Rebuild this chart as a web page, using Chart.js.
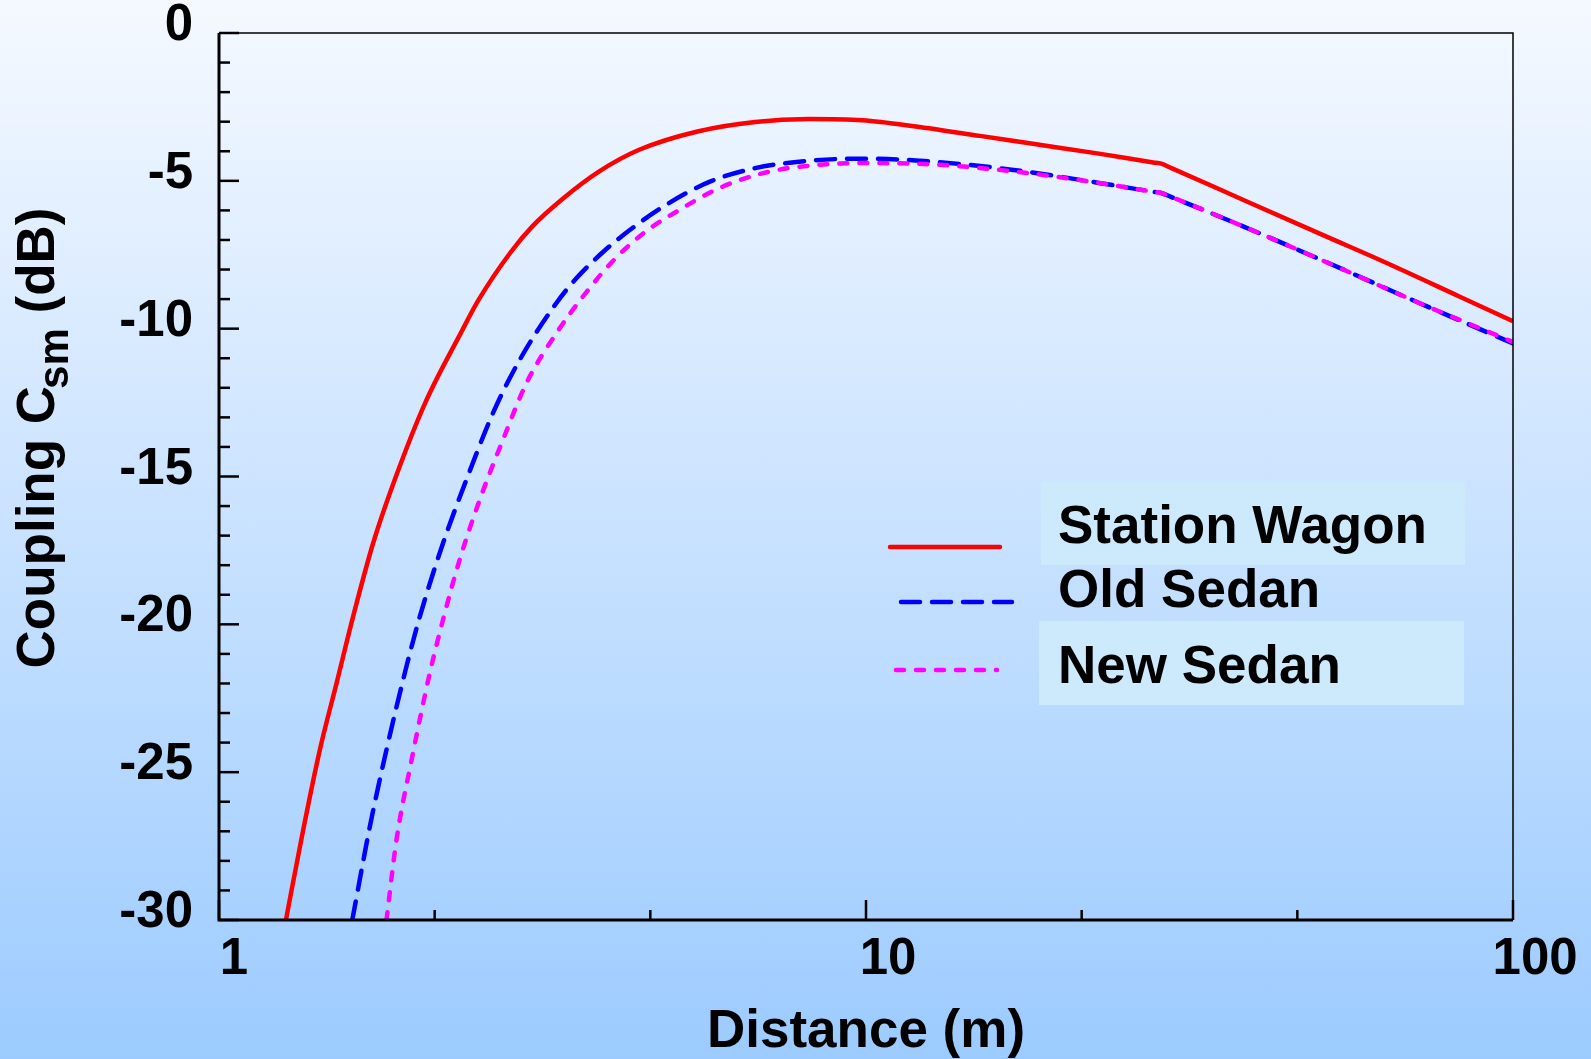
<!DOCTYPE html>
<html>
<head>
<meta charset="utf-8">
<script src="https://cdn.jsdelivr.net/npm/chart.js@4.4.1/dist/chart.umd.min.js"></script>
<style>
  html, body { margin: 0; padding: 0; }
  body {
    width: 1591px; height: 1059px; overflow: hidden;
    background: linear-gradient(to bottom, #f5f9ff 0%, #9ccbff 100%);
  }
  canvas { display: block; }
</style>
</head>
<body>
<canvas id="couplingChart" width="1591" height="1059"></canvas>
<script>
// values (distance in m, coupling in dB)
const swDist = [1.269, 1.348, 1.432, 1.52, 1.612, 1.731, 1.877, 2.084, 2.364, 2.52, 2.818, 3.05, 3.41, 3.87, 4.46, 5.49, 6.74, 8.16, 9.87, 11.94, 15, 18, 22.9, 27.8, 28.6, 29.6, 38.7, 51.4, 62.9, 82.6, 100];
const swDb   = [-30, -27, -24.24, -21.98, -19.73, -17.25, -15, -12.5, -10.15, -9.02, -7.44, -6.54, -5.58, -4.68, -3.95, -3.33, -3.01, -2.91, -2.95, -3.16, -3.48, -3.74, -4.08, -4.38, -4.42, -4.56, -5.69, -6.88, -7.72, -8.91, -9.75];

const oldDist = [1.607, 1.711, 1.815, 1.949, 2.044, 2.22, 2.413, 2.652, 2.917, 3.323, 3.57, 3.93, 4.39, 4.91, 5.75, 6.74, 8.16, 9.87, 11.94, 16.9, 22.9, 27.8, 28.6, 29.6, 37.7, 52.6, 71.6, 100];
const oldDb   = [-30, -26.83, -24.24, -21.42, -19.73, -17.25, -15.1, -12.85, -11.05, -9.13, -8.29, -7.39, -6.54, -5.81, -5.02, -4.57, -4.32, -4.25, -4.31, -4.63, -5.07, -5.37, -5.41, -5.54, -6.48, -7.84, -9.13, -10.5];

const newDist = [1.815, 1.881, 1.985, 2.118, 2.234, 2.356, 2.53, 2.748, 2.987, 3.323, 3.69, 4.06, 4.53, 5.15, 5.94, 6.96, 8.16, 9.87, 11.94, 16.9, 22.9, 27.8, 28.6, 29.6, 37.7, 52.6, 71.6, 100];
const newDb   = [-30, -27.28, -24.58, -21.64, -19.61, -17.8, -15.78, -13.75, -11.84, -10.15, -8.79, -7.72, -6.77, -5.98, -5.24, -4.73, -4.49, -4.40, -4.42, -4.68, -5.07, -5.37, -5.41, -5.54, -6.48, -7.84, -9.13, -10.45];

const seriesNames = ['Station Wagon', 'Old Sedan', 'New Sedan'];
const xTickValues = [1, 10, 100];
const yTickValues = [0, -5, -10, -15, -20, -25, -30];

const FONT = '"Liberation Sans", Arial, sans-serif';

function toPoints(xs, ys) {
    return xs.map((x, i) => ({ x: x, y: ys[i] }));
}

// frame, inside ticks, axis titles and the legend
const decorPlugin = {
    id: 'decor',
    afterDraw(chart) {
        const ctx = chart.ctx;
        const a = chart.chartArea;
        const xs = chart.scales.x;
        const ys = chart.scales.y;
        ctx.save();
        ctx.strokeStyle = '#000';
        ctx.lineCap = 'butt';

        // thin top and right lines
        ctx.lineWidth = 1.5;
        ctx.beginPath();
        ctx.moveTo(a.left, a.top); ctx.lineTo(a.right, a.top); ctx.lineTo(a.right, a.bottom);
        ctx.stroke();
        // heavier left and bottom axes
        ctx.lineWidth = 3;
        ctx.beginPath();
        ctx.moveTo(a.left, a.top); ctx.lineTo(a.left, a.bottom); ctx.lineTo(a.right, a.bottom);
        ctx.stroke();

        // y ticks every 1 dB, pointing right
        ctx.lineWidth = 2.5;
        for (let v = -30; v <= 0; v++) {
            const py = ys.getPixelForValue(v);
            const len = (v % 5 === 0) ? 20 : 11;
            ctx.beginPath();
            ctx.moveTo(a.left, py); ctx.lineTo(a.left + len, py);
            ctx.stroke();
        }
        // x ticks every third of a decade, pointing up
        for (let k = 0; k <= 6; k++) {
            const px = xs.getPixelForValue(Math.pow(10, k / 3));
            const len = (k % 3 === 0) ? 20 : 10;
            ctx.beginPath();
            ctx.moveTo(px, a.bottom); ctx.lineTo(px, a.bottom - len);
            ctx.stroke();
        }

        ctx.fillStyle = '#000';
        ctx.textBaseline = 'alphabetic';

        // x title
        ctx.font = 'bold 53px ' + FONT;
        ctx.textAlign = 'center';
        ctx.fillText('Distance (m)', (a.left + a.right) / 2, 1047);

        // y title with subscript
        ctx.save();
        ctx.translate(54, 438);
        ctx.rotate(-Math.PI / 2);
        ctx.textAlign = 'left';
        const mainFont = 'bold 53px ' + FONT;
        const subFont = 'bold 42px ' + FONT;
        ctx.font = mainFont;
        const t1 = 'Coupling C', t3 = ' (dB)';
        const w1 = ctx.measureText(t1).width;
        const w3 = ctx.measureText(t3).width;
        ctx.font = subFont;
        const w2 = ctx.measureText('sm').width;
        let tx = -(w1 + w2 - 3 + w3) / 2;
        ctx.font = mainFont;
        ctx.fillText(t1, tx, 0);
        tx += w1 - 3;
        ctx.font = subFont;
        ctx.fillText('sm', tx, 14);
        tx += w2;
        ctx.font = mainFont;
        ctx.fillText(t3, tx, 0);
        ctx.restore();

        // legend
        ctx.fillStyle = '#cdeafd';
        ctx.fillRect(1041, 482, 424, 83);
        ctx.fillRect(1039, 621, 425, 84);

        const ds = chart.data.datasets;
        const legendLines = [
            { i: 0, x1: 890, x2: 1000, y: 547 },
            { i: 1, x1: 901, x2: 1012, y: 602 },
            { i: 2, x1: 896, x2: 997, y: 670 }
        ];
        ctx.lineCap = 'round';
        ctx.lineWidth = 4.5;
        legendLines.forEach(l => {
            const d = ds[l.i];
            ctx.strokeStyle = d.borderColor;
            ctx.setLineDash(d.borderDash || []);
            ctx.beginPath();
            ctx.moveTo(l.x1, l.y); ctx.lineTo(l.x2, l.y);
            ctx.stroke();
        });
        ctx.setLineDash([]);

        ctx.fillStyle = '#000';
        ctx.font = 'bold 53px ' + FONT;
        ctx.textAlign = 'left';
        ctx.fillText(seriesNames[0], 1058, 543);
        ctx.fillText(seriesNames[1], 1058, 607);
        ctx.fillText(seriesNames[2], 1058, 683);
        ctx.restore();
    }
};

const ctx = document.getElementById('couplingChart').getContext('2d');
const couplingChart = new Chart(ctx, {
    type: 'line',
    data: {
        datasets: [
            {
                label: seriesNames[0],
                data: toPoints(swDist, swDb),
                borderColor: '#ff0000',
                borderWidth: 4.5,
                order: 0
            },
            {
                label: seriesNames[1],
                data: toPoints(oldDist, oldDb),
                borderColor: '#0000ff',
                borderWidth: 4.5,
                borderDash: [19, 12],
                borderCapStyle: 'round',
                order: 2
            },
            {
                label: seriesNames[2],
                data: toPoints(newDist, newDb),
                borderColor: '#ff00ff',
                borderWidth: 4.5,
                borderDash: [8, 12],
                borderCapStyle: 'round',
                order: 1
            }
        ]
    },
    options: {
        responsive: false,
        maintainAspectRatio: false,
        animation: false,
        events: [],
        layout: { padding: { top: 33, right: 78, bottom: 0, left: 0 } },
        elements: {
            point: { radius: 0 },
            line: { cubicInterpolationMode: 'monotone', borderJoinStyle: 'round' }
        },
        plugins: {
            legend: { display: false },
            tooltip: { enabled: false }
        },
        scales: {
            x: {
                type: 'logarithmic',
                min: 1,
                max: 100,
                grid: { display: false, drawTicks: false },
                border: { display: false },
                afterBuildTicks: (axis) => {
                    axis.ticks = xTickValues.map(v => ({ value: v }));
                },
                afterFit: (scale) => {
                    scale.height = 139;
                    scale.paddingLeft = 0;
                    scale.paddingRight = 0;
                },
                ticks: {
                    autoSkip: false,
                    maxRotation: 0,
                    padding: 9,
                    labelOffset: 15,
                    color: '#000',
                    font: { family: FONT, size: 51, weight: 'bold' },
                    // the 10 and 100 labels sit a little further right in the original
                    callback: (v) => (v > 1 ? ' ' : '') + String(v)
                }
            },
            y: {
                type: 'linear',
                min: -30,
                max: 0,
                grid: { display: false, drawTicks: false },
                border: { display: false },
                afterBuildTicks: (axis) => {
                    axis.ticks = yTickValues.map(v => ({ value: v }));
                },
                afterFit: (scale) => {
                    scale.width = 219;
                    scale.paddingTop = 0;
                    scale.paddingBottom = 0;
                },
                ticks: {
                    autoSkip: false,
                    padding: 26,
                    labelOffset: -7,
                    color: '#000',
                    font: { family: FONT, size: 51, weight: 'bold' },
                    callback: (v) => String(v)
                }
            }
        }
    },
    plugins: [decorPlugin]
});
</script>
</body>
</html>
